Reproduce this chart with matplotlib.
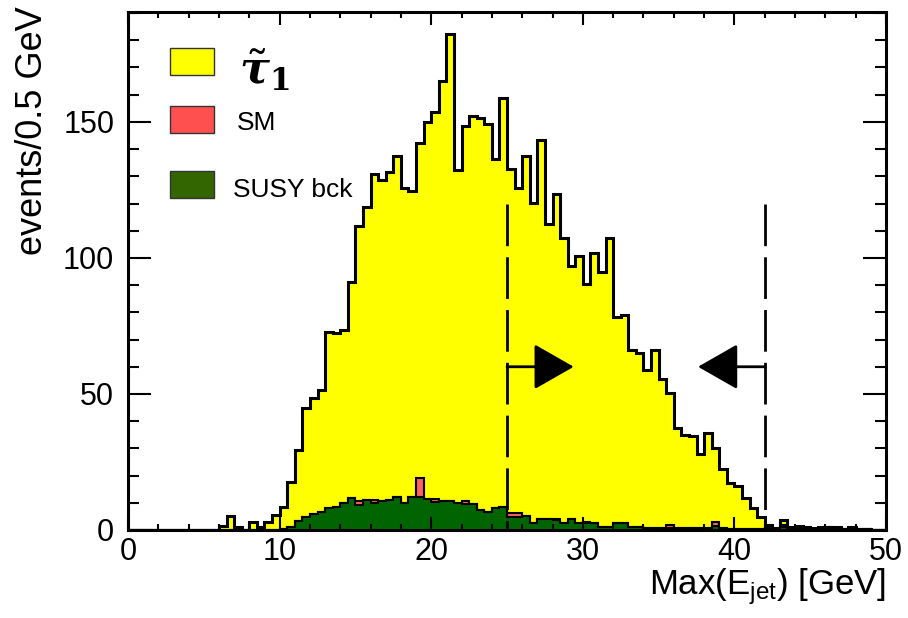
import numpy as np
import matplotlib
matplotlib.use("Agg")
import matplotlib.pyplot as plt
from matplotlib.patches import Rectangle

plt.rcParams['font.family'] = ['Liberation Sans', 'DejaVu Sans']
plt.rcParams['mathtext.fontset'] = 'custom'
plt.rcParams['mathtext.rm'] = 'Liberation Sans'
plt.rcParams['mathtext.it'] = 'DejaVu Serif:italic:bold'
plt.rcParams['mathtext.bf'] = 'DejaVu Serif:bold'

# 100 bins of 0.5 GeV from 0 to 50
bin_edges = np.linspace(0, 50, 101)

# stau signal (yellow, top of the stack)
stau = [0, 0, 0, 0, 0, 0, 0, 0, 0, 0,
        0, 0, 1.5, 5, 1, 0, 3, 1, 3, 5.5,
        8.1, 16.6, 26.1, 39.8, 42.6, 44.8, 64.9, 63.9, 63.5, 79.7,
        101.0, 107.6, 119.9, 117.9, 120.7, 125.2, 115.9, 112.3, 123.2, 138.6,
        142.5, 154.4, 171.8, 122.5, 137.9, 142.6, 143.9, 142.6, 128.3, 150.3,
        126.5, 119.5, 132.4, 117.6, 139.5, 108.6, 119.4, 104.7, 93.2, 98.2,
        87.4, 99.0, 93.8, 106.0, 75.9, 76.5, 64.8, 63.8, 58.0, 65.4,
        55.0, 48.3, 36.8, 34.3, 34.0, 27.3, 34.9, 27.0, 21.7, 16.7,
        15.7, 11.1, 7.5, 4.2, 1.2, 0.5, 2.0, 0.5, 0.7, 0.5,
        0.3, 0.5, 0.2, 0.5, 0.2, 0.5, 0.2, 0.2, 0, 0]

# Standard Model background (red, middle)
sm = [0] * 100
for k, v in {30: 1.6, 32: 1.1, 38: 6.7, 40: 1.0, 44: 1.1, 50: 1.2, 51: 1.2,
             56: 0.5, 60: 0.3, 71: 1.4, 77: 1.5, 86: 0.5, 92: 0.5}.items():
    sm[k] = v

# SUSY background (green, bottom)
susy = [0, 0, 0, 0, 0, 0, 0, 0, 0, 0,
        0, 0, 0, 0, 0, 0, 0, 0, 0, 0,
        0.5, 1.2, 3.3, 4.9, 5.8, 6.7, 8.0, 8.6, 10.0, 11.6,
        9.2, 11.0, 9.9, 10.8, 11.0, 12.3, 9.9, 12.3, 12.3, 11.3,
        10.3, 10.8, 10.6, 9.9, 9.5, 9.4, 7.4, 6.7, 8.0, 8.6,
        4.9, 4.9, 5.2, 2.5, 3.9, 3.9, 3.5, 2.5, 3.9, 2.5,
        2.7, 2.7, 1.2, 1.2, 2.5, 2.5, 1.2, 1.2, 0.8, 0.6,
        0.6, 0.6, 0.6, 0.6, 0.6, 0.6, 0.6, 1.5, 0.6, 0.5,
        0.5, 0.5, 0.5, 0.5, 0.8, 0.3, 1.2, 0.5, 0.8, 0.5,
        0.3, 0.5, 0.5, 0.5, 0.3, 0.5, 0.3, 0.3, 0, 0]

cut_low = 25
cut_high = 42
cut_line_top = 120
arrow_y = 60
arrow_len = 4.4

susy = np.array(susy)
sm_stack = susy + np.array(sm)
total = sm_stack + np.array(stau)

fig = plt.figure(figsize=(9.08, 6.18), dpi=100)
ax = fig.add_axes([0.141, 0.1424, 0.8348, 0.8382])

# stacked histogram, drawn top layer first
layers = [(total, '#ffff00', 2.2), (sm_stack, '#ff6060', 1.5), (susy, '#006400', 1.5)]
for vals, col, lw in layers:
    ax.stairs(vals, bin_edges, fill=True, color=col, lw=0)
    ax.stairs(vals, bin_edges, color='black', lw=lw)

# selection cuts
for xc in (cut_low, cut_high):
    ax.plot([xc, xc], [cut_line_top, 0], color='black', lw=2, dashes=(15, 4))

arrow_style = "-|>,head_length=1.26,head_width=0.72"
ax.annotate('', xy=(cut_low + arrow_len, arrow_y), xytext=(cut_low, arrow_y),
            arrowprops=dict(arrowstyle=arrow_style, mutation_scale=20, color='black',
                            lw=2, shrinkA=0, shrinkB=0))
ax.annotate('', xy=(cut_high - arrow_len, arrow_y), xytext=(cut_high, arrow_y),
            arrowprops=dict(arrowstyle=arrow_style, mutation_scale=20, color='black',
                            lw=2, shrinkA=0, shrinkB=0))

ax.set_xlim(0, 50)
ax.set_ylim(0, 190.4)
ax.set_xticks(np.arange(0, 51, 10))
ax.set_xticks(np.arange(0, 51, 2), minor=True)
ax.set_yticks([0, 50, 100, 150])
ax.set_yticks(np.arange(0, 191, 10), minor=True)
ax.tick_params(which='both', direction='in', top=True, right=True, width=1.5)
ax.tick_params(axis='x', which='major', length=9.5, labelsize=22, pad=5)
ax.tick_params(axis='x', which='minor', length=4.5)
ax.tick_params(axis='y', which='major', length=16.5, labelsize=22, pad=10)
ax.tick_params(axis='y', which='minor', length=8)
for sp in ax.spines.values():
    sp.set_linewidth(2.2)

ax.text(1.0, -0.11, r'Max(E$_{\mathrm{jet}}$) [GeV]', transform=ax.transAxes,
        ha='right', va='center', fontsize=25)
ax.text(-0.126, 1.012, 'events/0.5 GeV', transform=ax.transAxes, rotation=90,
        ha='center', va='top', fontsize=26)

# legend (hand placed, as in the original)
legend_items = [('#ffff00', 0.878), ('#ff5050', 0.766), ('#336600', 0.640)]
for col, yb in legend_items:
    ax.add_patch(Rectangle((0.0554, yb), 0.058, 0.053, transform=ax.transAxes,
                           facecolor=col, edgecolor='#333333', lw=1))
ax.text(0.146, 0.888, r'$\tilde{\tau}_{\mathbf{1}}$', transform=ax.transAxes,
        ha='left', va='center', fontsize=32)
ax.text(0.144, 0.786, 'SM', transform=ax.transAxes, ha='left', va='center', fontsize=19)
ax.text(0.139, 0.656, 'SUSY bck', transform=ax.transAxes, ha='left', va='center', fontsize=19)

fig.savefig('out.png', dpi=100)
